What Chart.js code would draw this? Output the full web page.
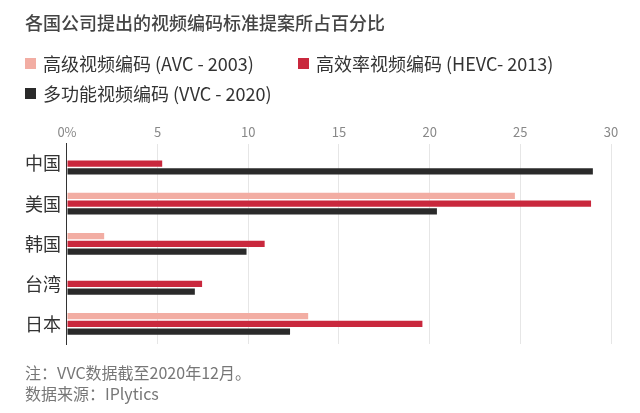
<!DOCTYPE html>
<html>
<head>
  <meta charset="utf-8">
  <title>视频编码标准提案</title>
  <style>
    body {
      margin: 0;
      padding: 0;
      background-color: #ffffff;
      font-family: "Noto Sans CJK SC", "Noto Sans", sans-serif;
    }

    .chart-box {
      position: relative;
      width: 640px;
      height: 413px;
    }

    .chart-title {
      position: absolute;
      left: 25px;
      top: 10px;
      font-size: 18px;
      font-weight: 500;
      color: #444;
      line-height: 24px;
    }

    .legend {
      position: absolute;
      left: 25px;
      top: 48px;
      width: 600px;
    }

    .legend-item {
      position: absolute;
      display: flex;
      align-items: center;
      font-size: 18px;
      color: #333;
      line-height: 30px;
      white-space: nowrap;
    }

    .legend-item i {
      display: inline-block;
      width: 11px;
      height: 11px;
      margin-right: 7px;
    }

    .notes {
      position: absolute;
      left: 25px;
      top: 362px;
      font-size: 16px;
      color: #777;
      line-height: 21px;
    }
  </style>
  <script src="https://cdn.jsdelivr.net/npm/chart.js"></script>
</head>
<body>
<div class="chart-box">
  <canvas id="codecChart"></canvas>
  <div class="chart-title">各国公司提出的视频编码标准提案所占百分比</div>
  <div class="legend" id="legend"></div>
  <div class="notes" id="notes"></div>
</div>

<script>
  // Data
  const countries = ['中国', '美国', '韩国', '台湾', '日本'];
  const avcShare = [0, 24.7, 2.05, 0, 13.3];
  const hevcShare = [5.25, 28.9, 10.9, 7.45, 19.6];
  const vvcShare = [29.0, 20.4, 9.9, 7.05, 12.3];
  const seriesNames = ['高级视频编码 (AVC - 2003)', '高效率视频编码 (HEVC- 2013)', '多功能视频编码 (VVC - 2020)'];
  const seriesColors = ['#f2ada3', '#c9283d', '#2a2a2a'];
  const noteLines = ['注：VVC数据截至2020年12月。', '数据来源：IPlytics'];

  // legend slots (left, top) – two on the first row, one below
  const legendSlots = [[0, 0], [273, 0], [0, 30]];

  const fontFamily = '"Noto Sans CJK SC", "Noto Sans", sans-serif';

  const ctx = document.getElementById('codecChart').getContext('2d');

  const codecChart = new Chart(ctx, {
    type: 'bar',
    data: {
      labels: countries,
      datasets: [
        { label: seriesNames[0], data: avcShare, backgroundColor: seriesColors[0] },
        { label: seriesNames[1], data: hevcShare, backgroundColor: seriesColors[1] },
        { label: seriesNames[2], data: vvcShare, backgroundColor: seriesColors[2] }
      ]
    },
    options: {
      indexAxis: 'y',
      responsive: true,
      maintainAspectRatio: false,
      animation: false,
      categoryPercentage: 0.58,
      barPercentage: 0.8,
      layout: {
        padding: { left: 19, right: 29, top: 120, bottom: 69 }
      },
      plugins: {
        legend: { display: false },
        tooltip: { enabled: false }
      },
      scales: {
        x: {
          position: 'top',
          min: 0,
          max: 30,
          ticks: {
            stepSize: 5,
            color: '#888',
            padding: 4,
            font: { family: fontFamily, size: 13 },
            callback: v => v === 0 ? '0%' : v
          },
          grid: {
            color: '#e6e6e6',
            drawTicks: false
          },
          border: { display: false }
        },
        y: {
          ticks: {
            color: '#333',
            padding: 6,
            font: { family: fontFamily, size: 18 }
          },
          grid: { display: false, drawTicks: false },
          border: { display: true, color: '#333', width: 1 }
        }
      }
    }
  });

  // html legend built from the chart datasets
  const legendBox = document.getElementById('legend');
  codecChart.data.datasets.forEach((ds, i) => {
    const item = document.createElement('div');
    item.className = 'legend-item';
    item.style.left = legendSlots[i][0] + 'px';
    item.style.top = legendSlots[i][1] + 'px';
    item.innerHTML = `<i style="background:${ds.backgroundColor}"></i>${ds.label}`;
    legendBox.appendChild(item);
  });

  document.getElementById('notes').innerHTML = noteLines.join('<br>');
</script>

</body>
</html>
